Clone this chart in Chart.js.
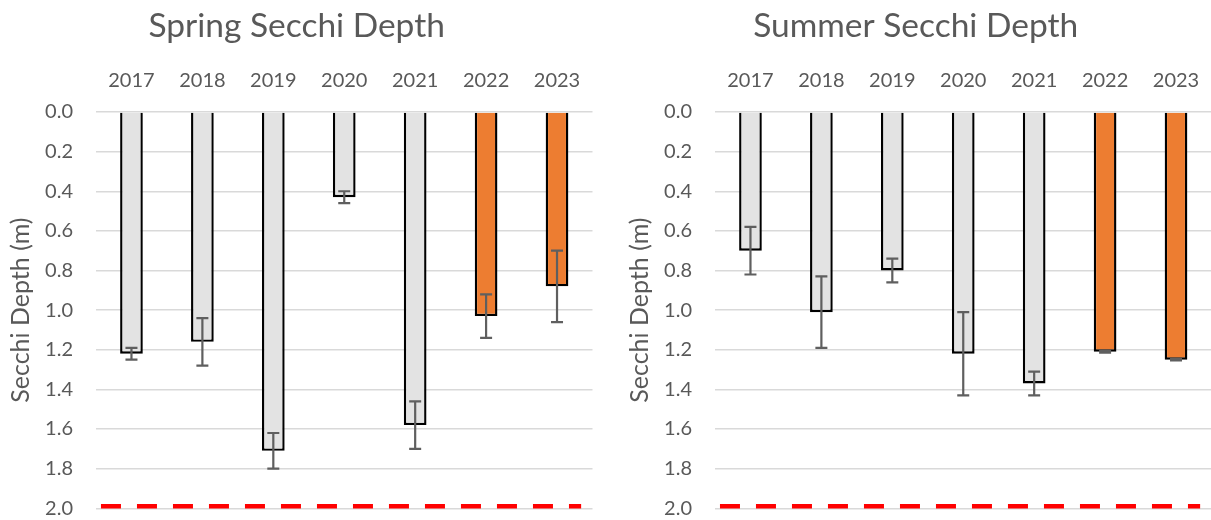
<!DOCTYPE html>
<html>
<head>
<meta charset="utf-8">
<title>Secchi Depth</title>
<script src="https://cdn.jsdelivr.net/npm/chart.js@4.4.1/dist/chart.umd.min.js"></script>
<style>
  html, body { margin: 0; padding: 0; background: #ffffff; }
  body { width: 1211px; height: 520px; overflow: hidden; position: relative; }
  .panel { position: absolute; top: 0; width: 600px; height: 520px; }
  #springPanel { left: 0; }
  #summerPanel { left: 619px; }
</style>
</head>
<body>
<div class="panel" id="springPanel"><canvas id="spring" width="600" height="520"></canvas></div>
<div class="panel" id="summerPanel"><canvas id="summer" width="600" height="520"></canvas></div>
<script>
// Sampling years (categories)
const years = ['2017', '2018', '2019', '2020', '2021', '2022', '2023'];
// Years shown in orange
const highlightYears = ['2022', '2023'];

// Mean Secchi depth (m) and its error (+/- m), spring
const springDepth = [1.22, 1.16, 1.71, 0.43, 1.58, 1.03, 0.88];
const springError = [0.03, 0.12, 0.09, 0.03, 0.12, 0.11, 0.18];

// Mean Secchi depth (m) and its error (+/- m), summer
const summerDepth = [0.70, 1.01, 0.80, 1.22, 1.37, 1.21, 1.25];
const summerError = [0.12, 0.18, 0.06, 0.21, 0.06, 0.005, 0.003];

// Depth axis ticks (m)
const depthTicks = [0.0, 0.2, 0.4, 0.6, 0.8, 1.0, 1.2, 1.4, 1.6, 1.8, 2.0];

// Red dashed reference depth and the span it covers (in category units)
const referenceDepth = 1.99;
const referenceSpan = [-0.43, 6.34];

const TEXT = '#595959';
const GREY = '#e3e3e3';
const ORANGE = '#ed7d31';
const FONT = 'Lato';

Chart.defaults.font.family = FONT;
Chart.defaults.color = TEXT;

// Draws +/- error whiskers on top of each bar
const errorBarsPlugin = {
  id: 'errorBars',
  afterDatasetsDraw(chart, args, opts) {
    const meta = chart.getDatasetMeta(0);
    const values = chart.data.datasets[0].data;
    const yScale = chart.scales.y;
    const ctx = chart.ctx;
    ctx.save();
    ctx.strokeStyle = opts.color;
    ctx.lineWidth = opts.lineWidth;
    ctx.lineCap = 'butt';
    meta.data.forEach((bar, i) => {
      const v = values[i];
      const e = opts.errors[i];
      const yTop = yScale.getPixelForValue(v - e);
      const yBot = yScale.getPixelForValue(v + e);
      const x = bar.x;
      const half = opts.capWidth / 2;
      ctx.beginPath();
      ctx.moveTo(x, yTop); ctx.lineTo(x, yBot);
      ctx.moveTo(x - half, yTop); ctx.lineTo(x + half, yTop);
      ctx.moveTo(x - half, yBot); ctx.lineTo(x + half, yBot);
      ctx.stroke();
    });
    ctx.restore();
  }
};

function makeChart(canvasId, titleText, depth, errors) {
  const ctx = document.getElementById(canvasId);
  return new Chart(ctx, {
    type: 'bar',
    data: {
      labels: years,
      datasets: [
        {
          type: 'bar',
          data: depth,
          xAxisID: 'x',
          yAxisID: 'y',
          grouped: false,
          backgroundColor: years.map(y => highlightYears.includes(y) ? ORANGE : GREY),
          borderColor: '#000000',
          borderWidth: 2.4,
          borderSkipped: 'start',
          barPercentage: 0.32,
          categoryPercentage: 1.0
        },
        {
          type: 'line',
          data: referenceSpan.map(x => ({ x: x, y: referenceDepth })),
          xAxisID: 'xRef',
          yAxisID: 'y',
          borderColor: '#ff0000',
          borderWidth: 4.5,
          borderDash: [20, 16],
          borderCapStyle: 'butt',
          pointRadius: 0,
          fill: false,
          clip: false
        }
      ]
    },
    options: {
      responsive: false,
      animation: false,
      devicePixelRatio: 1,
      layout: { padding: { left: 0, right: 6.7, top: 0, bottom: 11.7 } },
      plugins: {
        legend: { display: false },
        tooltip: { enabled: false },
        title: {
          display: true,
          text: titleText,
          color: TEXT,
          font: { family: FONT, size: 33.5, weight: 'normal' },
          padding: { top: 5.8, bottom: 0 }
        },
        errorBars: { errors: errors, color: '#5f5f5f', lineWidth: 2.2, capWidth: 12 }
      },
      scales: {
        x: {
          type: 'category',
          position: 'top',
          grid: { display: false, drawTicks: false },
          border: { display: false },
          ticks: { color: TEXT, font: { family: FONT, size: 20 }, padding: 19.3, maxRotation: 0 },
          afterFit: s => { s.height = 66; }
        },
        xRef: {
          type: 'linear',
          display: false,
          offset: false,
          grid: { offset: false },
          min: -0.5,
          max: years.length - 0.5
        },
        y: {
          min: depthTicks[0],
          max: depthTicks[depthTicks.length - 1],
          reverse: true,
          afterBuildTicks: s => { s.ticks = depthTicks.map(v => ({ value: v })); },
          ticks: {
            color: TEXT,
            font: { family: FONT, size: 20 },
            padding: 23,
            callback: v => Number(v).toFixed(1)
          },
          grid: { color: '#d9d9d9', lineWidth: 1.4, drawTicks: false },
          border: { display: false },
          title: {
            display: true,
            text: 'Secchi Depth (m)',
            color: TEXT,
            font: { family: FONT, size: 25 },
            padding: { top: 5.5, bottom: 0 }
          },
          afterFit: s => {
            s.width = 96;
            s.paddingTop = 0;
            s.paddingBottom = 0;
          }
        }
      }
    },
    plugins: [errorBarsPlugin]
  });
}

makeChart('spring', 'Spring Secchi Depth', springDepth, springError);
makeChart('summer', 'Summer Secchi Depth', summerDepth, summerError);
</script>
</body>
</html>
